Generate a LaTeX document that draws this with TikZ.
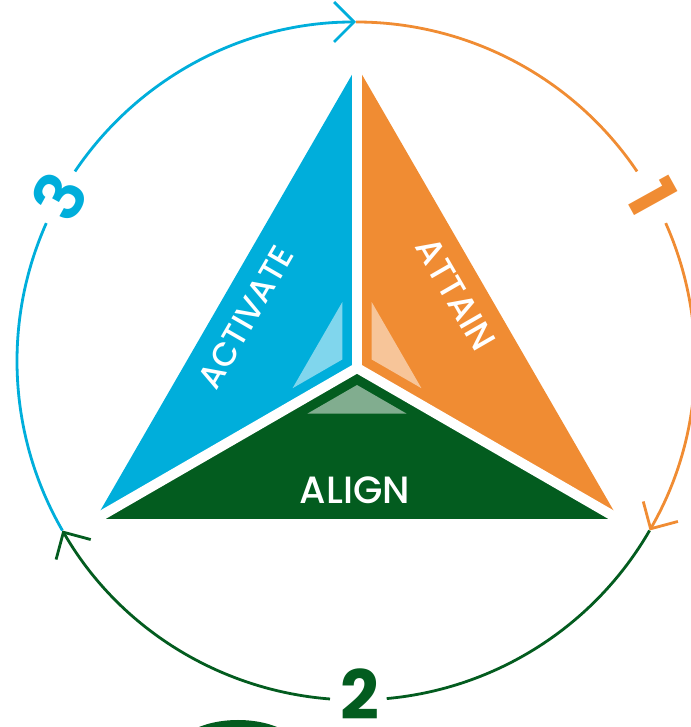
\documentclass[tikz,border=0pt]{standalone}
\usepackage{fontspec}
\setmainfont{Poppins}
\newfontfamily\medfont{Poppins Medium}
\newfontfamily\semifont{Poppins SemiBold}
\usetikzlibrary{arrows.meta,calc}
\definecolor{cblue}{HTML}{00AEDB}
\definecolor{corange}{HTML}{F08C33}
\definecolor{cgreen}{HTML}{035C1F}
\begin{document}
\begin{tikzpicture}[x=1pt,y=1pt,
  arcline/.style={line width=2.8pt},
  tipped/.style={-{Straight Barb[length=20pt,width=40pt]}},
  lbl/.style={text=white, inner sep=0pt},
  num/.style={font=\fontsize{68}{68}\selectfont\bfseries, inner sep=0pt},
  gapline/.style={white, line width=10pt, line cap=round},
  hl/.style={fill=white, fill opacity=0.5}]
\useasboundingbox (0,0) rectangle (690,727);
\coordinate (O) at (356,366);
\coordinate (C) at (357,359);
\coordinate (A) at (357,661);
\coordinate (L) at (95.5,208);
\coordinate (R) at (618.5,208);
% triangle parts
\fill[cblue] (A) -- (L) -- (C) -- cycle;
\fill[corange] (A) -- (R) -- (C) -- cycle;
\fill[cgreen] (L) -- (R) -- (C) -- cycle;
\draw[gapline] (C) -- (A);
\draw[gapline] (C) -- (L);
\draw[gapline] (C) -- (R);
% highlights
\fill[hl] ($(C)!0.19!(A)+(150:17)$) -- ($(C)+(150:17)$) -- ($(C)!0.19!(L)+(150:17)$) -- cycle;
\fill[hl] ($(C)!0.19!(A)+(30:17)$) -- ($(C)+(30:17)$) -- ($(C)!0.19!(R)+(30:17)$) -- cycle;
\fill[hl] ($(C)!0.19!(L)+(270:17)$) -- ($(C)+(270:17)$) -- ($(C)!0.19!(R)+(270:17)$) -- cycle;
% labels
\node[lbl, rotate=60, font=\medfont\fontsize{33}{33}\selectfont] (act) at (246,410) {ACTIVATE};
\node[lbl, rotate=-60, font=\medfont\fontsize{35}{35}\selectfont] (att) at (456,433) {ATTAIN};
\node[lbl, font=\medfont\fontsize{38}{38}\selectfont] (ali) at (355,237) {ALIGN};
% cycle arcs
\draw[arcline, cblue] ($(O)+(210:339)$) arc[start angle=210,end angle=156,radius=339];
\draw[arcline, cblue, tipped] ($(O)+(146:339)$) arc[start angle=146,end angle=90,radius=339];
\draw[arcline, corange] ($(O)+(90:339)$) arc[start angle=90,end angle=34,radius=339];
\draw[arcline, corange, tipped] ($(O)+(24:339)$) arc[start angle=24,end angle=-30,radius=339];
\draw[arcline, cgreen] ($(O)+(-30:339)$) arc[start angle=-30,end angle=-84.8,radius=339];
\draw[arcline, cgreen, tipped] ($(O)+(-94.4:339)$) arc[start angle=-94.4,end angle=-150,radius=339];
% numbers
\node[num, text=corange, rotate=-61] (n1) at ($(O)+(29:339)$) {1};
\node[num, text=cblue, rotate=61, font=\semifont\fontsize{68}{68}\selectfont] (n3) at ($(O)+(151:339)$) {3};
\node[num, text=cgreen] (n2) at (360,33) {2};
% partial shape at bottom
\fill[cgreen] (238,-28) ellipse[x radius=65, y radius=35];
\end{tikzpicture}
\end{document}
